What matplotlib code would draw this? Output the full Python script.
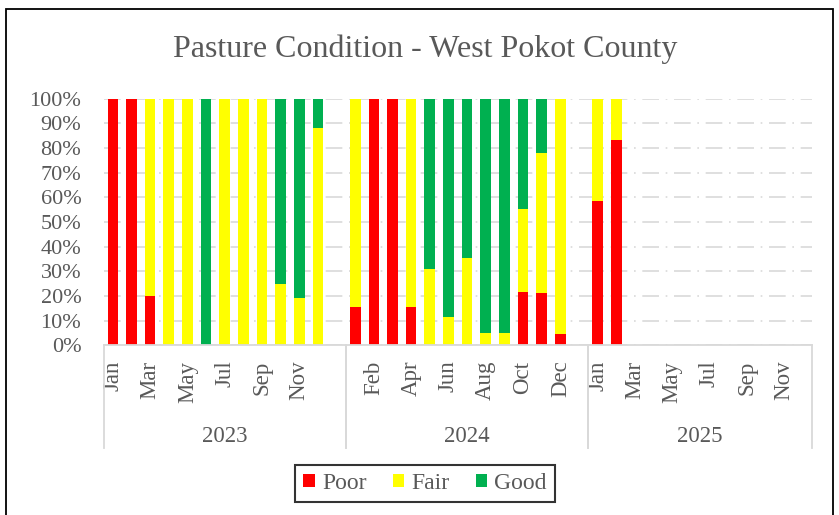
import matplotlib
matplotlib.use("Agg")
import matplotlib.pyplot as plt
from matplotlib.patches import Rectangle
import numpy as np

plt.rcParams["font.family"] = ["Liberation Serif", "DejaVu Serif"]

# Data (percent of reports per month)
months = ["Jan", "Feb", "Mar", "Apr", "May", "Jun",
          "Jul", "Aug", "Sep", "Oct", "Nov", "Dec"]
years = ["2023", "2024", "2025"]

poor_2023 = [100, 100, 20, 0, 0, 0, 0, 0, 0, 0, 0, 0]
fair_2023 = [0, 0, 80, 100, 100, 0, 100, 100, 100, 25, 19, 88]
good_2023 = [0, 0, 0, 0, 0, 100, 0, 0, 0, 75, 81, 12]

poor_2024 = [15.5, 100, 100, 15.5, 0, 0, 0, 0, 0, 21.8, 21.4, 4.7]
fair_2024 = [84.5, 0, 0, 84.5, 31, 11.4, 35.4, 5, 5, 33.6, 56.5, 95.3]
good_2024 = [0, 0, 0, 0, 69, 88.6, 64.6, 95, 95, 44.6, 22.1, 0]

poor_2025 = [58.5, 83.2]
fair_2025 = [41.5, 16.8]
good_2025 = [0, 0]

# one blank slot after 2023 and 2024 (empty row in the source sheet)
extra_slots = [1, 1, 0]

TEXT = "#595959"
GRID = "#D9D9D9"
colors = {"Poor": "#FF0000", "Fair": "#FFFF00", "Good": "#00B050"}


def build_series():
    labels, poor, fair, good, groups = [], [], [], [], []
    per_year = [(poor_2023, fair_2023, good_2023),
                (poor_2024, fair_2024, good_2024),
                (poor_2025, fair_2025, good_2025)]
    for (p, f, g), extra in zip(per_year, extra_slots):
        start = len(labels)
        n = len(months) + extra
        labels += months + [""] * extra
        poor += list(p) + [0] * (n - len(p))
        fair += list(f) + [0] * (n - len(f))
        good += list(g) + [0] * (n - len(g))
        groups.append((start, start + n))
    return labels, np.array(poor), np.array(fair), np.array(good), groups


labels, poor, fair, good, groups = build_series()
x = np.arange(len(labels))

fig = plt.figure(figsize=(8.39, 5.15), dpi=100)
ax = fig.add_axes([0.1234, 0.3295, 0.8444, 0.4788])

# grid lines behind the bars
ax.set_axisbelow(True)
ax.yaxis.grid(True, color=GRID, linewidth=1.2,
              linestyle=(0, (10, 4, 1, 4)))

w = 0.57
ax.bar(x, poor, width=w, color=colors["Poor"], label="Poor")
ax.bar(x, fair, width=w, bottom=poor, color=colors["Fair"], label="Fair")
ax.bar(x, good, width=w, bottom=poor + fair, color=colors["Good"], label="Good")

ax.set_xlim(-0.5, len(labels) - 0.5)
ax.set_ylim(0, 100)
ax.set_yticks(np.arange(0, 101, 10))
ax.set_yticklabels(["{}%".format(v) for v in range(0, 101, 10)])
ax.tick_params(axis="y", length=0, pad=16, labelsize=16, labelcolor=TEXT)

ax.set_xticks(x[::2])
ax.set_xticklabels(labels[::2], rotation=90)
ax.tick_params(axis="x", length=0, pad=11, labelsize=16.5, labelcolor=TEXT)

for side in ["top", "right", "left"]:
    ax.spines[side].set_visible(False)
ax.spines["bottom"].set_color(GRID)
ax.spines["bottom"].set_linewidth(1.3)

# year grouping boxes under the month labels
trans = ax.get_xaxis_transform()
line_bottom = -0.416
for start, end in groups:
    for edge in (start - 0.5, end - 0.5):
        ax.plot([edge, edge], [0, line_bottom], color=GRID, linewidth=1.3,
                transform=trans, clip_on=False)
for (start, end), yr in zip(groups, years):
    ax.text((start + end - 1) / 2, -0.37, yr, transform=trans,
            ha="center", va="center", fontsize=16.5, color=TEXT)

fig.text(0.5066, 0.905, "Pasture Condition - West Pokot County",
         ha="center", va="center", fontsize=23, color=TEXT)

leg = fig.legend(loc="center", bbox_to_anchor=(0.5066, 0.0612), ncol=3,
                 fontsize=17, frameon=True, fancybox=False,
                 handlelength=0.5, handleheight=0.5, handletextpad=0.3,
                 columnspacing=1.1, borderpad=0.35)
leg.get_frame().set_edgecolor("black")
leg.get_frame().set_linewidth(1.5)
for t in leg.get_texts():
    t.set_color(TEXT)

# outer chart frame
fig.patches.append(Rectangle((6 / 839, -0.02), 827 / 839, 1.02 - 9 / 515,
                             transform=fig.transFigure, fill=False,
                             edgecolor="black", linewidth=1.3))

fig.savefig("out.png", dpi=100)
